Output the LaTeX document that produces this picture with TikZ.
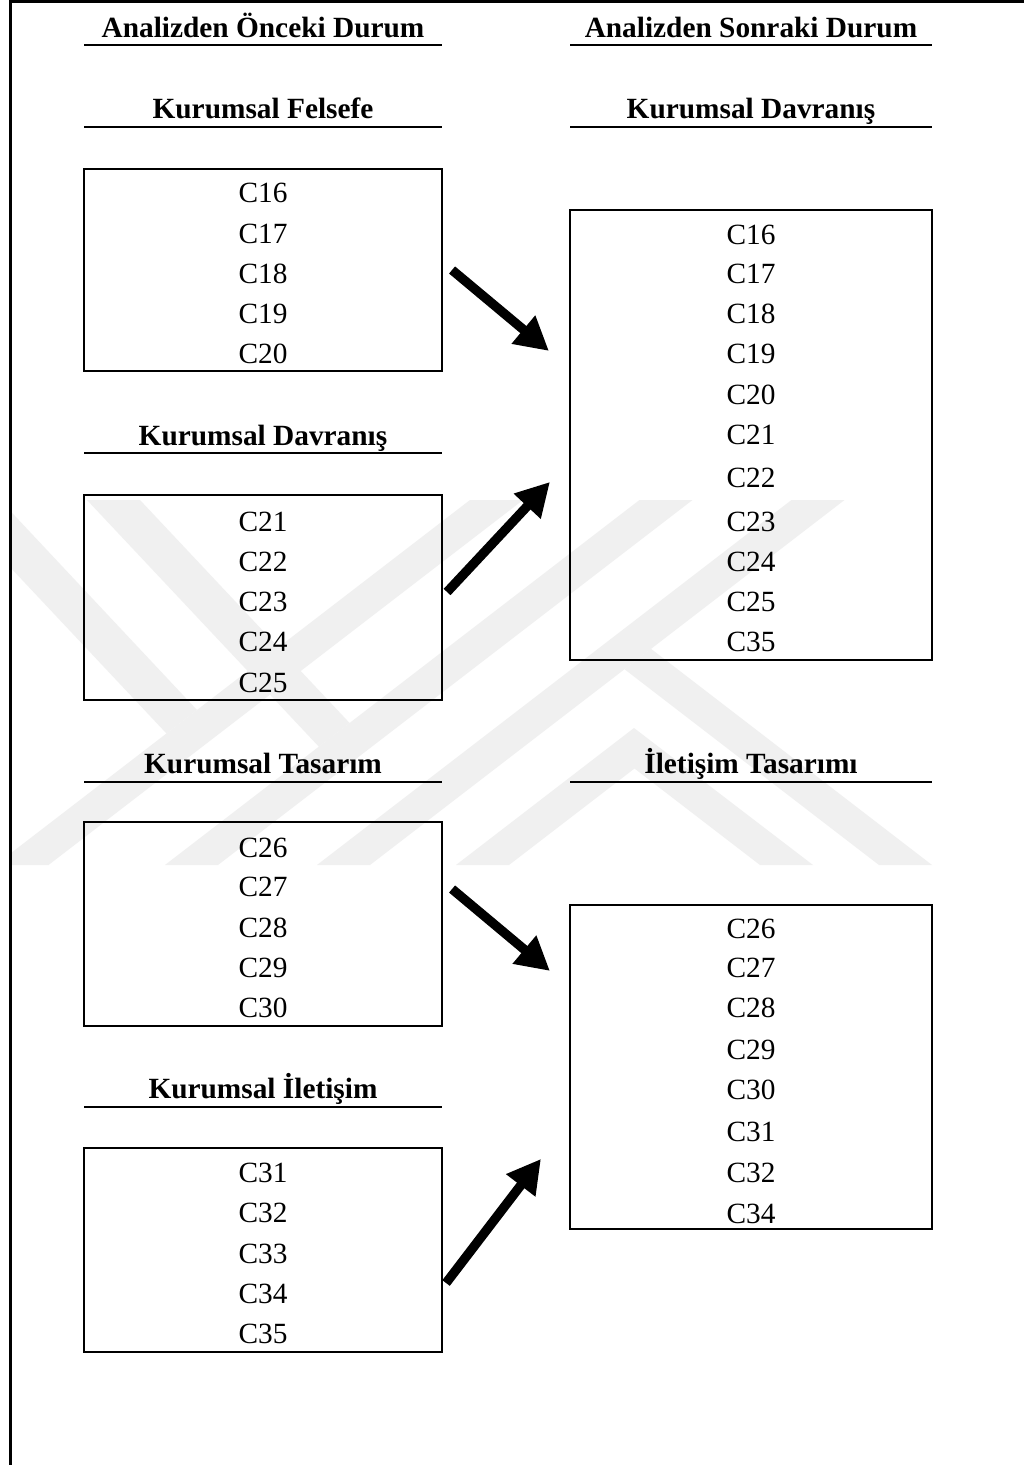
\documentclass[tikz,border=0pt]{standalone}
\usepackage{fontspec}
\setmainfont{Liberation Serif}
\usetikzlibrary{arrows.meta,fit,calc}

\begin{document}
\begin{tikzpicture}[x=0.75pt,y=-0.75pt,
  pageframe/.style={line width=2.4pt},
  box/.style={draw, rectangle, line width=1.6pt, inner sep=0pt},
  rule/.style={line width=1.6pt},
  head/.style={font=\fontsize{22}{26}\selectfont\bfseries, anchor=base, inner sep=0pt},
  item/.style={font=\fontsize{22}{26}\selectfont, anchor=base, inner sep=0pt},
  bigarrow/.style={line width=7pt, -{Triangle[length=25pt,width=26pt]}},
  wmband/.style={fill=black!6}]

% page background and size
\fill[white] (0,0) rectangle (1024,1465);
\useasboundingbox (0,0) rectangle (1024,1465);

% faint background emblem
\begin{scope}
  \clip (12,500) rectangle (1024,865);
  \fill[wmband] (470,500) -- (523,500) -- (48.5,865) -- (-4.5,865) -- cycle;
  \fill[wmband] (639.5,500) -- (692.5,500) -- (218,865) -- (165,865) -- cycle;
  \fill[wmband] (791.5,500) -- (844.5,500) -- (370,865) -- (317,865) -- cycle;
  \fill[wmband] (624.5,669.2) -- (651,648.8) -- (932,865) -- (879,865) -- cycle;
  \fill[wmband] (456,865) -- (634,728) -- (813,865) -- (760,865) -- (634.5,768.5) -- (509,865) -- cycle;
  \fill[wmband] (-53,500) -- (0,500) -- (197,710) -- (166.5,733.5) -- cycle;
  \fill[wmband] (87,500) -- (140,500) -- (349.6,723) -- (318.9,746.7) -- cycle;
\end{scope}

% page frame
\draw[pageframe] (1024,1.5) -- (10.5,1.5) -- (10.5,1465);

% column titles
\node[head] (hBefore) at (263,37) {Analizden Önceki Durum};
\draw[rule] (84,45) -- (442,45);
\node[head] (hAfter) at (751,37) {Analizden Sonraki Durum};
\draw[rule] (570,45) -- (932,45);

% left column: groups before the analysis
\node[head] (hL1) at (263,118) {Kurumsal Felsefe};
\draw[rule] (84,127) -- (442,127);
\path (84,169) coordinate (L1nw) (442,371) coordinate (L1se);
\node[box, fit=(L1nw)(L1se)] (L1) {};
\foreach \t/\y [count=\i] in {C16/202.5,C17/243.5,C18/283.5,C19/323.5,C20/363.5}
  \node[item] (L1-\i) at (263,\y) {\t};

\node[head] (hL2) at (263,445) {Kurumsal Davranış};
\draw[rule] (84,453) -- (442,453);
\path (84,495) coordinate (L2nw) (442,700) coordinate (L2se);
\node[box, fit=(L2nw)(L2se)] (L2) {};
\foreach \t/\y [count=\i] in {C21/531.5,C22/571.5,C23/611.5,C24/651.5,C25/692.5}
  \node[item] (L2-\i) at (263,\y) {\t};

\node[head] (hL3) at (263,773) {Kurumsal Tasarım};
\draw[rule] (84,782) -- (442,782);
\path (84,822) coordinate (L3nw) (442,1026) coordinate (L3se);
\node[box, fit=(L3nw)(L3se)] (L3) {};
\foreach \t/\y [count=\i] in {C26/857.5,C27/896.5,C28/937.5,C29/977.5,C30/1017.5}
  \node[item] (L3-\i) at (263,\y) {\t};

\node[head] (hL4) at (263,1098) {Kurumsal İletişim};
\draw[rule] (84,1107) -- (442,1107);
\path (84,1148) coordinate (L4nw) (442,1352) coordinate (L4se);
\node[box, fit=(L4nw)(L4se)] (L4) {};
\foreach \t/\y [count=\i] in {C31/1182.5,C32/1222.5,C33/1263.5,C34/1303.5,C35/1343.5}
  \node[item] (L4-\i) at (263,\y) {\t};

% right column: groups after the analysis
\node[head] (hR1) at (751,118) {Kurumsal Davranış};
\draw[rule] (570,127) -- (932,127);
\path (570,210) coordinate (R1nw) (932,660) coordinate (R1se);
\node[box, fit=(R1nw)(R1se)] (R1) {};
\foreach \t/\y [count=\i] in {C16/244.5,C17/283.5,C18/323.5,C19/363.5,C20/404.5,C21/444.5,C22/487.5,C23/531.5,C24/571.5,C25/611.5,C35/651.5}
  \node[item] (R1-\i) at (751,\y) {\t};

\node[head] (hR2) at (751,773) {İletişim Tasarımı};
\draw[rule] (570,782) -- (932,782);
\path (570,905) coordinate (R2nw) (932,1229) coordinate (R2se);
\node[box, fit=(R2nw)(R2se)] (R2) {};
\foreach \t/\y [count=\i] in {C26/938.5,C27/977.5,C28/1017.5,C29/1059.5,C30/1099.5,C31/1141.5,C32/1182.5,C34/1223.5}
  \node[item] (R2-\i) at (751,\y) {\t};

% arrows from the old groups to the new ones
\coordinate (a1s) at ($(L1.east)+(9,0)$);
\coordinate (a1e) at ($(R1.north west)+(-20,142)$);
\coordinate (a2s) at ($(L2.east)+(4,-5.5)$);
\coordinate (a2e) at ($(R1.north west)+(-19,273)$);
\coordinate (a3s) at ($(L3.east)+(9,-35)$);
\coordinate (a3e) at ($(R2.north west)+(-19,67)$);
\coordinate (a4s) at ($(L4.east)+(3,33)$);
\coordinate (a4e) at ($(R2.north west)+(-28,255)$);
\draw[bigarrow] (a1s) -- (a1e);
\draw[bigarrow] (a2s) -- (a2e);
\draw[bigarrow] (a3s) -- (a3e);
\draw[bigarrow] (a4s) -- (a4e);
\end{tikzpicture}
\end{document}
